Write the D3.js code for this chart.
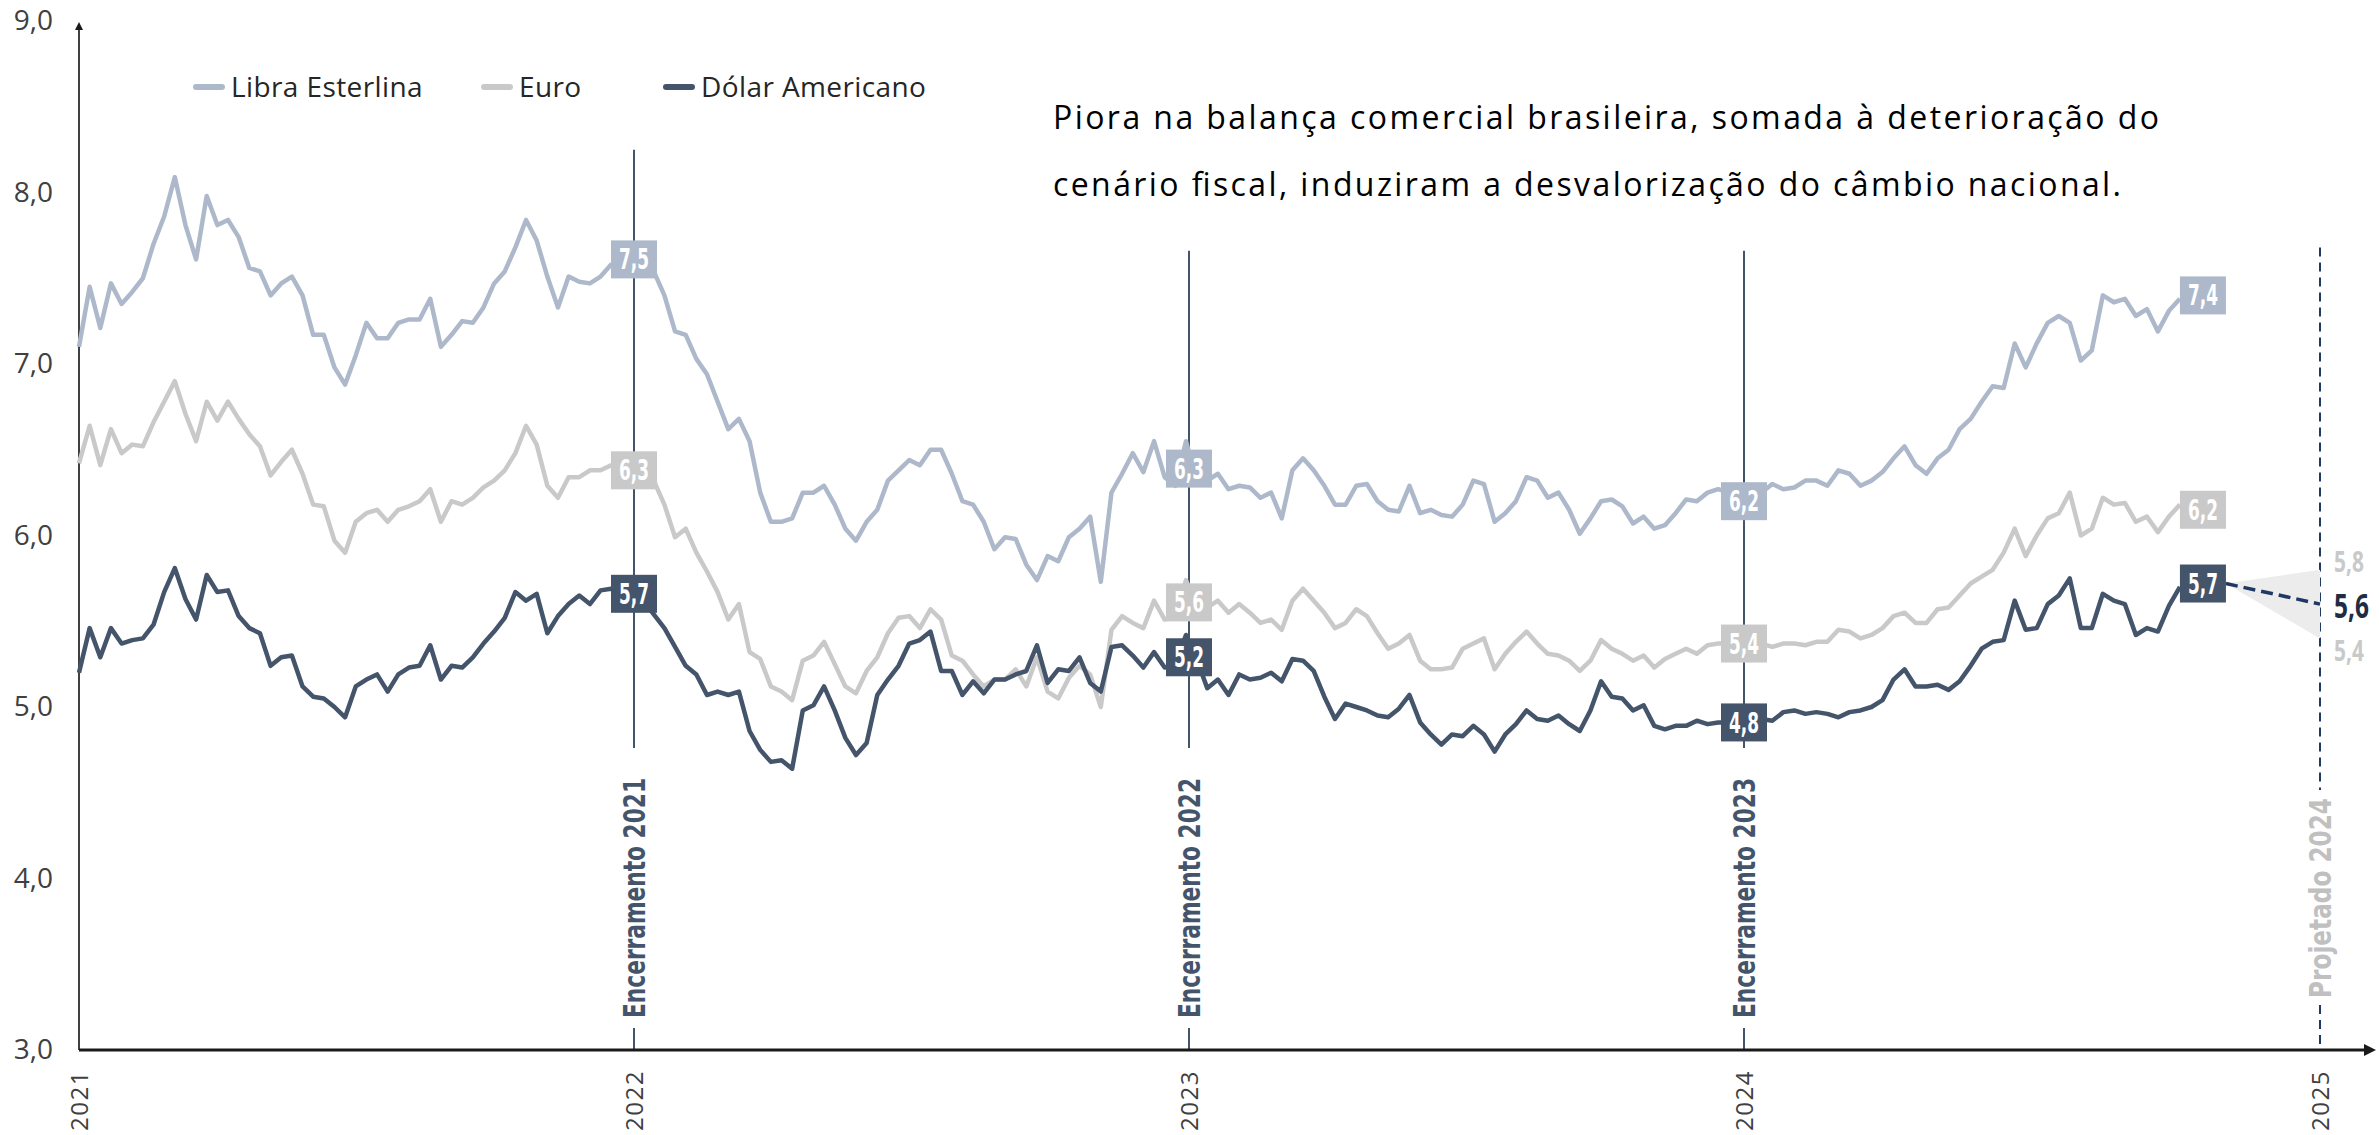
<!DOCTYPE html>
<html>
<head>
<meta charset="utf-8">
<script src="https://cdn.jsdelivr.net/npm/d3@7"></script>
<style>
  body { margin: 0; background: #fff; }
  svg { display: block; font-family: "Open Sans", "Noto Sans", sans-serif; }
  .narrow { font-family: "Liberation Sans Narrow", "DejaVu Sans Condensed", "Open Sans", sans-serif; font-stretch: condensed; }
</style>
</head>
<body>
<svg id="chart" width="2379" height="1135"></svg>
<script>
// cotações semanais (R$ por unidade), a partir de 01/01/2021
const startDate = new Date(2021, 0, 1);

const libra = [
  7.10, 7.45, 7.21, 7.47, 7.35, 7.42, 7.50, 7.70, 7.86, 8.09,
  7.81, 7.61, 7.98, 7.81, 7.84, 7.74, 7.56, 7.54, 7.40, 7.47,
  7.51, 7.40, 7.17, 7.17, 6.98, 6.88, 7.05, 7.24, 7.15, 7.15,
  7.24, 7.26, 7.26, 7.38, 7.10, 7.17, 7.25, 7.24, 7.33, 7.47,
  7.54, 7.68, 7.84, 7.72, 7.51, 7.33, 7.51, 7.48, 7.47, 7.51,
  7.58, 7.60, 7.60, 7.58, 7.54, 7.40, 7.19, 7.17, 7.03, 6.94,
  6.78, 6.62, 6.68, 6.55, 6.25, 6.08, 6.08, 6.10, 6.25, 6.25,
  6.29, 6.18, 6.04, 5.97, 6.08, 6.15, 6.32, 6.38, 6.44, 6.41,
  6.50, 6.50, 6.36, 6.20, 6.18, 6.08, 5.92, 5.99, 5.98, 5.83,
  5.74, 5.88, 5.85, 5.99, 6.04, 6.11, 5.73, 6.25, 6.36, 6.48,
  6.37, 6.55, 6.34, 6.29, 6.55, 6.32, 6.32, 6.36, 6.27, 6.29,
  6.28, 6.22, 6.25, 6.10, 6.38, 6.45, 6.38, 6.29, 6.18, 6.18,
  6.29, 6.30, 6.20, 6.15, 6.14, 6.29, 6.13, 6.15, 6.12, 6.11,
  6.18, 6.32, 6.30, 6.08, 6.13, 6.20, 6.34, 6.32, 6.22, 6.25,
  6.15, 6.01, 6.10, 6.20, 6.21, 6.17, 6.07, 6.11, 6.04, 6.06,
  6.13, 6.21, 6.20, 6.25, 6.27, 6.25, 6.23, 6.22, 6.25, 6.30,
  6.27, 6.28, 6.32, 6.32, 6.29, 6.38, 6.36, 6.29, 6.32, 6.37,
  6.45, 6.52, 6.41, 6.36, 6.45, 6.50, 6.62, 6.68, 6.78, 6.87,
  6.86, 7.12, 6.98, 7.12, 7.24, 7.28, 7.24, 7.02, 7.08, 7.40,
  7.36, 7.38, 7.28, 7.32, 7.19, 7.31, 7.38
];

const euro = [
  6.42, 6.64, 6.41, 6.62, 6.48, 6.53, 6.52, 6.66, 6.78, 6.90,
  6.71, 6.55, 6.78, 6.67, 6.78, 6.68, 6.59, 6.52, 6.35, 6.43,
  6.50, 6.36, 6.18, 6.17, 5.97, 5.90, 6.08, 6.13, 6.15, 6.08,
  6.15, 6.17, 6.20, 6.27, 6.08, 6.20, 6.18, 6.22, 6.28, 6.32,
  6.38, 6.48, 6.64, 6.53, 6.29, 6.22, 6.34, 6.34, 6.38, 6.38,
  6.41, 6.40, 6.38, 6.37, 6.32, 6.18, 5.99, 6.04, 5.90, 5.79,
  5.67, 5.51, 5.60, 5.32, 5.28, 5.12, 5.09, 5.04, 5.27, 5.30,
  5.38, 5.25, 5.12, 5.08, 5.21, 5.29, 5.43, 5.52, 5.53, 5.46,
  5.57, 5.51, 5.30, 5.27, 5.19, 5.12, 5.16, 5.16, 5.22, 5.12,
  5.29, 5.09, 5.05, 5.17, 5.24, 5.19, 5.00, 5.45, 5.53, 5.49,
  5.46, 5.62, 5.51, 5.53, 5.74, 5.58, 5.58, 5.62, 5.55, 5.60,
  5.55, 5.49, 5.51, 5.45, 5.62, 5.69, 5.62, 5.55, 5.46, 5.49,
  5.57, 5.53, 5.43, 5.34, 5.37, 5.42, 5.27, 5.22, 5.22, 5.23,
  5.34, 5.37, 5.40, 5.22, 5.31, 5.38, 5.44, 5.37, 5.31, 5.30,
  5.27, 5.21, 5.27, 5.39, 5.34, 5.31, 5.27, 5.30, 5.23, 5.28,
  5.31, 5.34, 5.31, 5.36, 5.37, 5.37, 5.37, 5.36, 5.37, 5.35,
  5.37, 5.37, 5.36, 5.38, 5.38, 5.45, 5.44, 5.40, 5.42, 5.46,
  5.53, 5.55, 5.49, 5.49, 5.57, 5.58, 5.65, 5.72, 5.76, 5.80,
  5.90, 6.04, 5.88, 6.00, 6.10, 6.13, 6.25, 6.00, 6.04, 6.22,
  6.18, 6.19, 6.08, 6.11, 6.02, 6.11, 6.18
];

const dolar = [
  5.20, 5.46, 5.29, 5.46, 5.37, 5.39, 5.40, 5.48, 5.67, 5.81,
  5.63, 5.51, 5.77, 5.67, 5.68, 5.53, 5.46, 5.43, 5.24, 5.29,
  5.30, 5.12, 5.06, 5.05, 5.00, 4.94, 5.12, 5.16, 5.19, 5.09,
  5.19, 5.23, 5.24, 5.36, 5.16, 5.24, 5.23, 5.29, 5.37, 5.44,
  5.52, 5.67, 5.62, 5.66, 5.43, 5.53, 5.60, 5.65, 5.60, 5.68,
  5.69, 5.67, 5.66, 5.62, 5.54, 5.46, 5.35, 5.24, 5.19, 5.07,
  5.09, 5.07, 5.09, 4.86, 4.75, 4.68, 4.69, 4.64, 4.98, 5.01,
  5.12, 4.98, 4.82, 4.72, 4.79, 5.07, 5.16, 5.24, 5.37, 5.39,
  5.44, 5.21, 5.21, 5.07, 5.15, 5.08, 5.16, 5.16, 5.19, 5.21,
  5.36, 5.14, 5.22, 5.21, 5.29, 5.14, 5.09, 5.35, 5.36, 5.30,
  5.23, 5.32, 5.23, 5.25, 5.42, 5.28, 5.11, 5.16, 5.07, 5.19,
  5.16, 5.17, 5.20, 5.15, 5.28, 5.27, 5.21, 5.06, 4.93, 5.02,
  5.00, 4.98, 4.95, 4.94, 4.99, 5.07, 4.91, 4.84, 4.78, 4.84,
  4.83, 4.89, 4.84, 4.74, 4.84, 4.90, 4.98, 4.93, 4.92, 4.95,
  4.90, 4.86, 4.98, 5.15, 5.06, 5.05, 4.98, 5.01, 4.89, 4.87,
  4.89, 4.89, 4.92, 4.90, 4.91, 4.91, 4.91, 4.92, 4.93, 4.92,
  4.97, 4.98, 4.96, 4.97, 4.96, 4.94, 4.97, 4.98, 5.00, 5.04,
  5.16, 5.22, 5.12, 5.12, 5.13, 5.10, 5.15, 5.24, 5.34, 5.38,
  5.39, 5.62, 5.45, 5.46, 5.60, 5.65, 5.75, 5.46, 5.46, 5.66,
  5.62, 5.60, 5.42, 5.46, 5.44, 5.59, 5.70
];

const seriesNames = ['Libra Esterlina', 'Euro', 'Dólar Americano'];
const seriesColors = ['#adb9ca', '#c9c9c9', '#44546a'];

const yTicks = [3, 4, 5, 6, 7, 8, 9];
const xYears = [2021, 2022, 2023, 2024, 2025];

// caixas de valor: fechamento de 2021, 2022, 2023 e último dado
const libraBoxAt = [7.61, 6.39, 6.20, 7.40];
const libraBoxText = ['7,5', '6,3', '6,2', '7,4'];
const euroBoxAt = [6.38, 5.61, 5.37, 6.15];
const euroBoxText = ['6,3', '5,6', '5,4', '6,2'];
const dolarBoxAt = [5.66, 5.29, 4.91, 5.72];
const dolarBoxText = ['5,7', '5,2', '4,8', '5,7'];

const closeYears = [2022, 2023, 2024];
const closeLabels = ['Encerramento 2021', 'Encerramento 2022', 'Encerramento 2023'];
const closeTop = [8.25, 7.66, 7.66];

// projeção do dólar para o fim de 2024
const projValues = [5.8, 5.6, 5.4];
const projLabels = ['5,8', '5,6', '5,4'];

const note = [
  'Piora na balança comercial brasileira, somada à deterioração do',
  'cenário fiscal, induziram a desvalorização do câmbio nacional.'
];

// ---------------------------------------------------------------
const svg = d3.select('#chart');

const dates = libra.map((_, i) => d3.timeDay.offset(startDate, 7 * i));
const lastDate = dates[dates.length - 1];

const x = d3.scaleTime()
  .domain([new Date(2021, 0, 1), new Date(2024, 0, 1), new Date(2025, 0, 1)])
  .range([79, 1744, 2320]);
const y = d3.scaleLinear().domain([3, 9]).range([1050, 21]);

const fmt = v => d3.format('.1f')(v).replace('.', ',');

const defs = svg.append('defs');
defs.append('marker')
  .attr('id', 'arrow')
  .attr('viewBox', '0 0 10 10')
  .attr('refX', 0).attr('refY', 5)
  .attr('markerWidth', 4).attr('markerHeight', 4)
  .attr('markerUnits', 'strokeWidth')
  .attr('orient', 'auto')
  .append('path').attr('d', 'M0,0 L10,5 L0,10 Z').attr('fill', '#1a1a1a');

// eixo y
const yAxis = svg.append('g')
  .attr('transform', `translate(${x.range()[0]},0)`)
  .call(d3.axisLeft(y).tickValues(yTicks).tickFormat(fmt).tickSize(0).tickPadding(26));
yAxis.select('.domain').remove();
yAxis.selectAll('text')
  .attr('font-family', '"Open Sans", sans-serif')
  .attr('font-size', 28).attr('fill', '#404040');

svg.append('line')
  .attr('x1', 79).attr('x2', 79)
  .attr('y1', y(3)).attr('y2', 30)
  .attr('stroke', '#404040').attr('stroke-width', 2)
  .attr('marker-end', 'url(#arrow)');

// eixo x
const yearDates = xYears.map(yr => new Date(yr, 0, 1));
const xAxis = svg.append('g')
  .attr('transform', `translate(0,${y(3)})`)
  .call(d3.axisBottom(x).tickValues(yearDates).tickFormat(d3.timeFormat('%Y')).tickSize(0));
xAxis.select('.domain').remove();
xAxis.selectAll('text')
  .attr('font-family', '"Open Sans", sans-serif')
  .attr('font-size', 24).attr('fill', '#404040')
  .attr('letter-spacing', 1.5)
  .attr('text-anchor', 'end')
  .attr('transform', 'translate(0,20) rotate(-90)')
  .attr('dx', 0).attr('dy', '0.35em').attr('y', 0);

// linhas de encerramento
closeYears.forEach((yr, i) => {
  const cx = x(new Date(yr, 0, 1));
  const g = svg.append('g');
  g.append('line')
    .attr('x1', cx).attr('x2', cx)
    .attr('y1', y(closeTop[i])).attr('y2', 748)
    .attr('stroke', '#44546a').attr('stroke-width', 2);
  g.append('line')
    .attr('x1', cx).attr('x2', cx)
    .attr('y1', 1028).attr('y2', y(3))
    .attr('stroke', '#44546a').attr('stroke-width', 2);
  g.append('text')
    .attr('class', 'narrow')
    .attr('transform', `translate(${cx},1018) rotate(-90)`)
    .attr('dy', '0.35em')
    .attr('font-size', 30).attr('font-weight', 700)
    .attr('fill', '#44546a')
    .attr('textLength', 240).attr('lengthAdjust', 'spacingAndGlyphs')
    .text(closeLabels[i]);
});

// linha projetado
const px = x(new Date(2025, 0, 1));
svg.append('line')
  .attr('x1', px).attr('x2', px)
  .attr('y1', y(7.68)).attr('y2', 790)
  .attr('stroke', '#1f3864').attr('stroke-width', 2)
  .attr('stroke-dasharray', '9,6');
svg.append('line')
  .attr('x1', px).attr('x2', px)
  .attr('y1', 1005).attr('y2', y(3))
  .attr('stroke', '#1f3864').attr('stroke-width', 2)
  .attr('stroke-dasharray', '9,6');
svg.append('text')
  .attr('class', 'narrow')
  .attr('transform', `translate(${px},998) rotate(-90)`)
  .attr('dy', '0.35em')
  .attr('font-size', 30).attr('font-weight', 700)
  .attr('fill', '#c0c0c0')
  .attr('textLength', 200).attr('lengthAdjust', 'spacingAndGlyphs')
  .text('Projetado 2024');

// eixo x (linha com seta)
svg.append('line')
  .attr('x1', 79).attr('x2', 2364)
  .attr('y1', y(3)).attr('y2', y(3))
  .attr('stroke', '#1a1a1a').attr('stroke-width', 3)
  .attr('marker-end', 'url(#arrow)');

// leque da projeção
const boxW = 46, boxH = 38;
const lastX = x(lastDate);
const projStart = [lastX + boxW, y(dolarBoxAt[3])];
svg.append('path')
  .attr('d', d3.line()([projStart, [px, y(projValues[0])], [px, y(projValues[2])]]) + 'Z')
  .attr('fill', '#ececec');
svg.append('line')
  .attr('x1', projStart[0]).attr('y1', projStart[1])
  .attr('x2', px).attr('y2', y(projValues[1]))
  .attr('stroke', '#1f3864').attr('stroke-width', 3.5)
  .attr('stroke-dasharray', '12,6');

// séries
const series = [libra, euro, dolar];
const line = d3.line()
  .x((d, i) => x(dates[i]))
  .y(d => y(d));
series.forEach((s, k) => {
  svg.append('path')
    .datum(s)
    .attr('d', line)
    .attr('fill', 'none')
    .attr('stroke', seriesColors[k])
    .attr('stroke-width', 4.5)
    .attr('stroke-linejoin', 'round');
});

// caixas de valor
const boxAt = [libraBoxAt, euroBoxAt, dolarBoxAt];
const boxText = [libraBoxText, euroBoxText, dolarBoxText];
const boxX = closeYears.map(yr => x(new Date(yr, 0, 1))).concat([lastX + boxW / 2]);
boxAt.forEach((vals, k) => {
  vals.forEach((v, j) => {
    const g = svg.append('g').attr('transform', `translate(${boxX[j]},${y(v)})`);
    g.append('rect')
      .attr('x', -boxW / 2).attr('y', -boxH / 2)
      .attr('width', boxW).attr('height', boxH)
      .attr('fill', seriesColors[k]);
    g.append('text')
      .attr('class', 'narrow')
      .attr('text-anchor', 'middle').attr('dy', '0.36em')
      .attr('font-size', 28).attr('font-weight', 700)
      .attr('fill', '#fff')
      .attr('textLength', 30).attr('lengthAdjust', 'spacingAndGlyphs')
      .text(boxText[k][j]);
  });
});

// rótulos da projeção (condensados por escala horizontal)
const projColors = ['#c9c9c9', '#1f2d44', '#c9c9c9'];
const projShift = [-8, 2, 12];
projValues.forEach((v, i) => {
  svg.append('text')
    .attr('transform', `translate(${px + 14},${y(v) + projShift[i]}) scale(0.72,1)`)
    .attr('dy', '0.35em')
    .attr('font-size', i === 1 ? 34 : 29)
    .attr('font-weight', 700)
    .attr('fill', projColors[i])
    .text(projLabels[i]);
});

// legenda
const legX = [193, 481, 663];
seriesNames.forEach((name, k) => {
  const g = svg.append('g').attr('transform', `translate(${legX[k]},87)`);
  g.append('line')
    .attr('x1', 3).attr('x2', 29)
    .attr('stroke', seriesColors[k]).attr('stroke-width', 6)
    .attr('stroke-linecap', 'round');
  g.append('text')
    .attr('x', 38).attr('dy', '0.35em')
    .attr('font-size', 28).attr('fill', '#262626')
    .attr('letter-spacing', 0.4)
    .text(name);
});

// texto explicativo
const noteWidth = [1106, 1068];
note.forEach((t, i) => {
  svg.append('text')
    .attr('x', 1053).attr('y', 129 + i * 67)
    .attr('font-size', 32).attr('fill', '#000')
    .attr('textLength', noteWidth[i]).attr('lengthAdjust', 'spacing')
    .text(t);
});
</script>
</body>
</html>
